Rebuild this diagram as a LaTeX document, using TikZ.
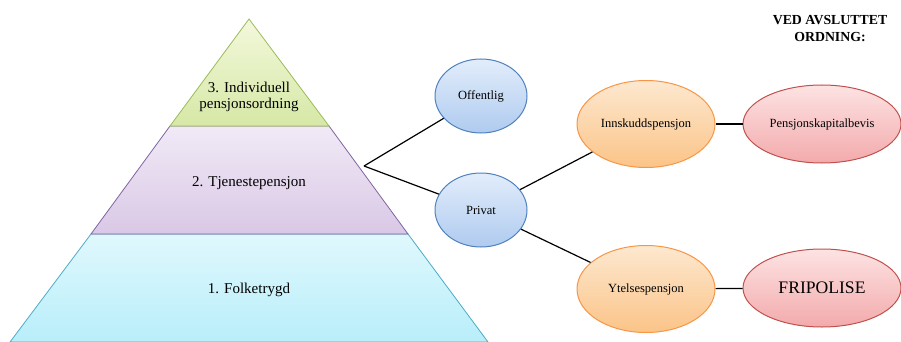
\documentclass[tikz,border=0pt]{standalone}
\usepackage{fontspec}
\setmainfont{Liberation Serif}
\usetikzlibrary{shapes.geometric}
\definecolor{grnB}{HTML}{9BBB59}
\definecolor{purB}{HTML}{8064A2}
\definecolor{cyaB}{HTML}{4BACC6}
\definecolor{bluB}{HTML}{4F81BD}
\definecolor{oraB}{HTML}{F79646}
\definecolor{redB}{HTML}{C0504D}
\definecolor{bluT}{HTML}{E2EDFB}
\definecolor{bluL}{HTML}{AFCBEF}
\definecolor{oraT}{HTML}{FDE8CF}
\definecolor{oraL}{HTML}{FBC488}
\definecolor{redT}{HTML}{FDE3E3}
\definecolor{redL}{HTML}{F3AAAC}
\definecolor{grnT}{HTML}{F3F8DC}
\definecolor{grnL}{HTML}{D6E8A6}
\definecolor{purT}{HTML}{F1EAF6}
\definecolor{purL}{HTML}{D9C8E6}
\definecolor{cyaT}{HTML}{E0F8FD}
\definecolor{cyaL}{HTML}{B8EEFA}
\tikzset{
  blob/.style={ellipse, draw, line width=1pt, inner sep=0pt, font=\fontsize{12.5}{14}\selectfont},
  blueblob/.style={blob, draw=bluB, top color=bluT, bottom color=bluL, minimum width=92pt, minimum height=74pt},
  orablob/.style={blob, draw=oraB, top color=oraT, bottom color=oraL, minimum width=138pt, minimum height=87pt},
  redblob/.style={blob, draw=redB, top color=redT, bottom color=redL, minimum width=158pt, minimum height=78pt},
  link/.style={draw=black, line width=1.2pt},
  lvl/.style={font=\fontsize{15}{15.5}\selectfont, align=center},
}
\begin{document}
\begin{tikzpicture}[x=1pt,y=-1pt]
\useasboundingbox (0,0) rectangle (901,342);
\begin{scope}
\clip (0,0) rectangle (901,342);
% pyramid
\shade[top color=cyaT, bottom color=cyaL, draw=cyaB, line width=0.8pt]
  (91,234) -- (408,234) -- (488,342) -- (10,342) -- cycle;
\shade[top color=purT, bottom color=purL, draw=purB, line width=0.8pt]
  (170,126) -- (329,126) -- (408,234) -- (91,234) -- cycle;
\shade[top color=grnT, bottom color=grnL, draw=grnB, line width=0.8pt]
  (249,19) -- (329,126) -- (170,126) -- cycle;
\end{scope}
\node[lvl] (l3) at (249,97) {3. Individuell\\pensjonsordning};
\node[lvl] (l2) at (249,183) {2. Tjenestepensjon};
\node[lvl] (l1) at (249,290) {1. Folketrygd};
\coordinate (pyr) at (364,166);

\node[blueblob] (off) at (481,96) {Offentlig};
\node[blueblob] (priv) at (481,210) {Privat};
\node[orablob] (inn) at (646,124) {Innskuddspensjon};
\node[orablob] (ytel) at (646,289) {Ytelsespensjon};
\node[redblob] (pkb) at (822,124) {Pensjonskapitalbevis};
\node[redblob, font=\fontsize{17.6}{19}\selectfont] (fri) at (822,288) {FRIPOLISE};

\node[font=\fontsize{13.8}{17}\selectfont\bfseries, align=center] (ved) at (830,29) {VED AVSLUTTET\\ORDNING:};

\draw[link] (pyr) -- (off);
\draw[link] (pyr) -- (priv);
\draw[link] (priv) -- (inn);
\draw[link] (priv) -- (ytel);
\draw[link] (inn) -- (pkb);
\draw[link] (ytel) -- (fri);
\end{tikzpicture}
\end{document}
